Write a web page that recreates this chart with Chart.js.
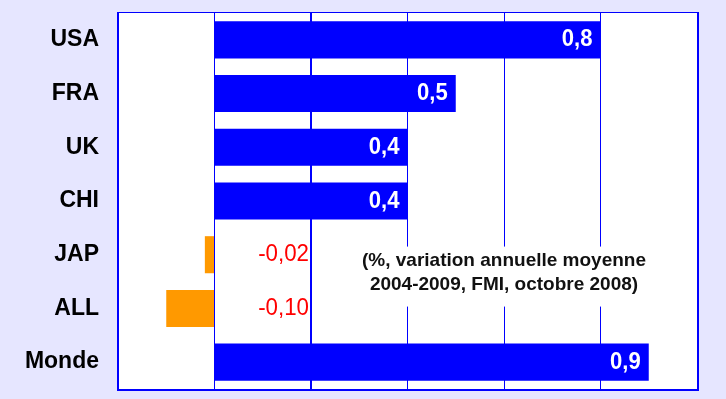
<!DOCTYPE html>
<html>
<head>
<meta charset="utf-8">
<script src="https://cdn.jsdelivr.net/npm/chart.js@4/dist/chart.umd.min.js"></script>
<style>
  html, body { margin: 0; padding: 0; background: #E6E6FF; }
  canvas { display: block; }
</style>
</head>
<body>
<canvas id="c" width="726" height="399"></canvas>
<script>
const categories = ["USA", "FRA", "UK", "CHI", "JAP", "ALL", "Monde"];
const values = [0.8, 0.5, 0.4, 0.4, -0.02, -0.10, 0.9];
const xTicks = [-0.2, 0, 0.2, 0.4, 0.6, 0.8, 1.0];
const noteLines = ["(%, variation annuelle moyenne", "2004-2009, FMI, octobre 2008)"];

const BLUE = "#0000FF", ORANGE = "#FF9900", RED = "#FF0000";
const BG = "#E6E6FF";
const FONT = "'Liberation Sans', Arial, sans-serif";

function fmt(v) {
  return (v < 0 ? v.toFixed(2) : v.toFixed(1)).replace(".", ",");
}

function drawScaledText(ctx, text, x, y, font, color, align, sx) {
  ctx.save();
  ctx.font = font;
  ctx.fillStyle = color;
  ctx.textBaseline = "middle";
  ctx.textAlign = align;
  ctx.translate(x, y);
  ctx.scale(sx, 1);
  ctx.fillText(text, 0, 0);
  ctx.restore();
}

const notePlugin = {
  id: "note",
  beforeDraw(chart) {
    const { ctx, chartArea: a } = chart;
    ctx.save();
    ctx.fillStyle = BG;
    ctx.fillRect(0, 0, chart.width, chart.height);
    ctx.fillStyle = "#FFFFFF";
    ctx.fillRect(a.left, a.top, a.right - a.left, a.bottom - a.top);
    ctx.restore();
  },
  beforeDatasetsDraw(chart) {
    const { ctx, scales } = chart;
    const xs = scales.x, ys = scales.y;
    const mid = ys.getPixelForValue(4.5);
    const left = xs.getPixelForValue(0.2) + 2;
    const right = chart.chartArea.right - 4;
    ctx.save();
    ctx.fillStyle = "#FFFFFF";
    ctx.fillRect(left, mid - 35, right - left, 60);
    ctx.restore();
  },
  afterDatasetsDraw(chart) {
    const { ctx, scales, chartArea } = chart;
    const xs = scales.x, ys = scales.y;
    const meta = chart.getDatasetMeta(0);
    meta.data.forEach((bar, i) => {
      const v = values[i];
      if (v >= 0) {
        drawScaledText(ctx, fmt(v), bar.x - 8, bar.y, "bold 24px " + FONT, "#FFFFFF", "right", 0.92);
      } else {
        drawScaledText(ctx, fmt(v), xs.getPixelForValue(0.2) - 2, bar.y, "24px " + FONT, RED, "right", 0.93);
      }
    });
    const mid = ys.getPixelForValue(4.5);
    const cx = xs.getPixelForValue(0.6);
    ctx.save();
    ctx.font = "bold 19px " + FONT;
    ctx.fillStyle = "#111111";
    ctx.textAlign = "center";
    ctx.textBaseline = "middle";
    ctx.fillText(noteLines[0], cx, mid - 21);
    ctx.fillText(noteLines[1], cx, mid + 3);
    ctx.restore();
    const a = chartArea;
    ctx.save();
    ctx.fillStyle = BLUE;
    ctx.fillRect(a.left - 1, a.top - 1, a.right - a.left + 3, 1);
    ctx.fillRect(a.left - 1, a.top - 1, 1, a.bottom - a.top + 3);
    ctx.fillRect(a.right, a.top - 1, 2, a.bottom - a.top + 3);
    ctx.fillRect(a.left - 1, a.bottom, a.right - a.left + 3, 2);
    ctx.restore();
  }
};

function zeroPad(scale) {
  scale.paddingTop = 0; scale.paddingBottom = 0;
  scale.paddingLeft = 0; scale.paddingRight = 0;
}

new Chart(document.getElementById("c"), {
  type: "bar",
  data: {
    labels: categories,
    datasets: [{
      data: values,
      backgroundColor: values.map(v => v < 0 ? ORANGE : BLUE),
      borderWidth: 0,
      barPercentage: 0.69,
      categoryPercentage: 1.0
    }]
  },
  options: {
    indexAxis: "y",
    responsive: false,
    animation: false,
    devicePixelRatio: 1,
    layout: { padding: { top: 13, right: 29, left: 0, bottom: 0 } },
    plugins: { legend: { display: false }, tooltip: { enabled: false } },
    scales: {
      x: {
        min: xTicks[0],
        max: xTicks[xTicks.length - 1],
        afterBuildTicks(scale) { scale.ticks = xTicks.map(v => ({ value: v })); },
        ticks: { display: false },
        grid: {
          color: BLUE,
          lineWidth: (c) => (c.tick && Math.abs(c.tick.value - 0.2) < 1e-9 ? 2 : 1),
          drawTicks: false
        },
        border: { display: false },
        afterFit(scale) { scale.height = 10; zeroPad(scale); }
      },
      y: {
        ticks: {
          color: "#000000",
          font: { family: FONT, size: 23, weight: "bold" },
          padding: 19
        },
        grid: { display: false, drawTicks: false },
        border: { display: false },
        afterFit(scale) { scale.width = 118; zeroPad(scale); }
      }
    }
  },
  plugins: [notePlugin]
});
</script>
</body>
</html>
